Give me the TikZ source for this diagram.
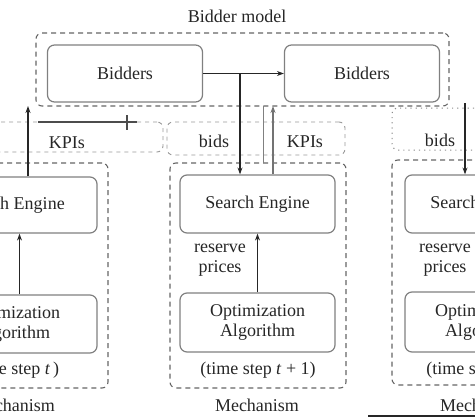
\documentclass[tikz,border=0pt]{standalone}
\usepackage{fontspec}
\setmainfont{Liberation Serif}
\usetikzlibrary{arrows.meta}
\begin{document}
\begin{tikzpicture}[x=1pt,y=-1pt,
  every node/.style={font=\fontsize{18}{20}\selectfont, text=black!85, inner sep=0pt},
  box/.style={draw=black!50, line width=1.2pt, rounded corners=7pt, minimum width=155pt, align=center},
  frame/.style={draw=black!60, line width=1.1pt, dash pattern=on 5pt off 4pt, rounded corners=6pt},
  lfr/.style={draw=black!40, line width=0.9pt, dash pattern=on 4pt off 4pt, rounded corners=6pt},
  dfr/.style={draw=black!45, line width=1pt, dash pattern=on 1.2pt off 4pt, rounded corners=6pt},
  arr/.style={-{Stealth[length=7pt,width=5pt]}, line width=1.4pt, draw=black!85},
  karr/.style={-{Stealth[length=7pt,width=5pt]}, line width=1.4pt, draw=black!55},
  lbl/.style={align=center}]
\useasboundingbox (0,0) rectangle (475,418);

% bidder model
\node (title) at (237,16) {Bidder model};
\node[frame, minimum width=413pt, minimum height=73pt] (bm) at (242.5,69.5) {};
\node[box, minimum height=57pt] (b1) at (125,73.5) {Bidders};
\node[box, minimum height=57pt] (b2) at (362,73.5) {Bidders};
\draw[arr] (b1) -- (b2);
\coordinate (bsplit) at (240,73.5);

% label frames
\node[lfr, minimum width=206pt, minimum height=30pt] (lb1) at (60,137) {};
\node[lfr, minimum width=178pt, minimum height=33pt] (lb2) at (256,138.5) {};
\node[dfr, minimum width=88pt, minimum height=42pt] (lb3) at (436,129) {};
\coordinate (h1) at (38,122);
\coordinate (h2) at (137,122);
\coordinate (t1) at (127,115);
\coordinate (t2) at (127,130);
\draw[line width=1.2pt, draw=black!70] (h1) -- (h2);
\draw[line width=1.2pt, draw=black!70] (t1) -- (t2);

% left mechanism
\node[frame, minimum width=176pt, minimum height=225pt] (m1) at (20,275.5) {};
\node[box, minimum height=56pt] (se1) at (19.5,205) {\hspace*{-14pt}Search Engine};
\node[box, minimum height=58pt] (oa1) at (19.5,324) {\hspace*{-14pt}Optimization\\\hspace*{-14pt}Algorithm};
\node (ts1) at (14,370) {(time step \textit{t}\,)};
\node (mc1) at (13,405) {Mechanism};
\node[lbl] (rp1) at (-30,260) {reserve\\prices};
\draw[arr] (oa1) -- (se1);
\coordinate (k1) at (28,106);
\draw[arr] (se1.north -| k1) -- (k1);
\node (kl1) at (67,143) {KPIs};

% middle mechanism
\node[frame, minimum width=176pt, minimum height=225pt] (m2) at (258,275.5) {};
\node[box, minimum height=58pt] (se2) at (257.5,204) {Search Engine};
\node[box, minimum height=59pt] (oa2) at (257.5,322.5) {Optimization\\Algorithm};
\node (ts2) at (258,370) {(time step \textit{t} + 1)};
\node (mc2) at (257,405) {Mechanism};
\node[lbl] (rp2) at (220,260) {reserve\\prices};
\draw[arr] (oa2) -- (se2);
\draw[arr] (bsplit) -- (bsplit |- se2.north);
\coordinate (k2) at (273,106);
\draw[karr] (se2.north -| k2) -- (k2);
\coordinate (g1) at (263,106);
\coordinate (g2) at (263,163);
\draw[line width=1pt, draw=black!50] (g1) -- (g2);
\node (bl2) at (214,141) {bids};
\node (kl2) at (305,142) {KPIs};

% right mechanism
\node[frame, minimum width=176pt, minimum height=225pt] (m3) at (480,272.5) {};
\node[box, minimum height=58pt] (se3) at (482.5,204) {Search Engine};
\node[box, minimum height=60pt] (oa3) at (482.5,322) {Optimization\\Algorithm};
\node (ts3) at (484,370) {(time step \textit{t} + 2)};
\node (mc3) at (482,405) {Mechanism};
\node[lbl] (rp3) at (445,260) {reserve\\prices};
\coordinate (b3s) at (465,103);
\draw[arr] (b3s) -- (b3s |- se3.north);
\node (bl3) at (440,140) {bids};

% bottom right line
\coordinate (e1) at (368,416);
\coordinate (e2) at (475,416);
\draw[line width=2.5pt, draw=black!85] (e1) -- (e2);
\end{tikzpicture}
\end{document}
